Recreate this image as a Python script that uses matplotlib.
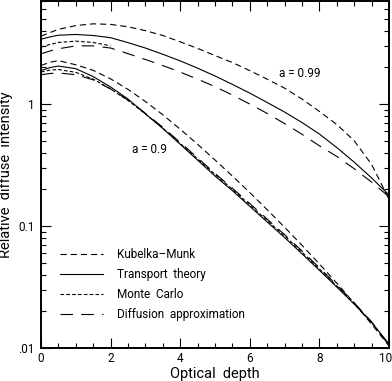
import matplotlib
matplotlib.use("Agg")
import matplotlib.pyplot as plt
from matplotlib.ticker import FixedLocator, FixedFormatter, LogLocator, MultipleLocator, NullFormatter

# optical depth grid
depth = [0, 0.25, 0.5, 1, 1.5, 2, 2.5, 3, 3.5, 4, 4.5, 5, 5.5, 6, 6.5, 7, 7.5, 8, 8.5, 9, 9.5, 10]

# a = 0.99
km_99 = [3.6, 3.85, 4.1, 4.4, 4.55, 4.5, 4.3, 4.0, 3.65, 3.24, 2.86, 2.5, 2.19, 1.88,
         1.6, 1.35, 1.1, 0.87, 0.68, 0.5, 0.32, 0.166]
tt_99 = [3.4, 3.55, 3.67, 3.72, 3.65, 3.5, 3.19, 2.88, 2.56, 2.26, 1.97, 1.70, 1.45, 1.23,
         1.03, 0.86, 0.706, 0.568, 0.44, 0.334, 0.248, 0.18]
da_99 = [2.58, 2.72, 2.84, 3.0, 3.0, 2.88, 2.59, 2.32, 2.07, 1.83, 1.60, 1.39, 1.186, 1.0,
         0.838, 0.692, 0.565, 0.455, 0.372, 0.295, 0.229, 0.174]
mc_depth_99 = [0, 0.25, 0.5, 1, 1.5, 2]
mc_99 = [2.93, 3.08, 3.2, 3.28, 3.2, 3.0]

# a = 0.9
km_90 = [2.07, 2.2, 2.27, 2.1, 1.89, 1.61, 1.32, 1.05, 0.817, 0.622, 0.468, 0.348, 0.257, 0.188,
         0.136, 0.0977, 0.0695, 0.0489, 0.034, 0.0233, 0.0157, 0.0104]
tt_90 = [1.88, 1.99, 2.05, 1.95, 1.68, 1.38, 1.10, 0.832, 0.631, 0.468, 0.347, 0.257, 0.195, 0.145,
         0.108, 0.0804, 0.0592, 0.0434, 0.0316, 0.0229, 0.0162, 0.0108]
mc_90 = [1.83, 1.9, 1.92, 1.82, 1.6, 1.33, 1.07, 0.83, 0.635, 0.475, 0.355, 0.265, 0.2, 0.149,
         0.111, 0.083, 0.061, 0.0445, 0.0322, 0.0232, 0.0163, 0.0106]
da_90 = [1.74, 1.78, 1.8, 1.74, 1.58, 1.33, 1.08, 0.84, 0.645, 0.485, 0.362, 0.27, 0.204, 0.153,
         0.114, 0.085, 0.0625, 0.0455, 0.0328, 0.0235, 0.0164, 0.0105]

x_ticks = [0, 2, 4, 6, 8, 10]
x_tick_labels = ['0', '2', '4', '6', '8', '10']
y_ticks = [0.01, 0.1, 1]
y_tick_labels = ['.01', '0.1', '1']

plt.rcParams['lines.scale_dashes'] = False
plt.rcParams['font.family'] = ['Roboto', 'DejaVu Sans']

fig = plt.figure(figsize=(3.92, 3.81), dpi=100)
ax = fig.add_axes([41 / 392, 33 / 381, 348 / 392, 347 / 381])

lw = 0.8
km_style = dict(color='black', lw=lw, dashes=(4.5, 2.8))
tt_style = dict(color='black', lw=lw, ls='-')
mc_style = dict(color='black', lw=lw, dashes=(2.6, 1.6))
da_style = dict(color='black', lw=lw, dashes=(9.0, 6.0))

ax.plot(depth, km_99, **km_style, label='Kubelka\u2013Munk')
ax.plot(depth, tt_99, **tt_style, label='Transport  theory')
ax.plot(mc_depth_99, mc_99, **mc_style, label='Monte  Carlo')
ax.plot(depth, da_99, **da_style, label='Diffusion  approximation')

ax.plot(depth, km_90, **km_style)
ax.plot(depth, tt_90, **tt_style)
ax.plot(depth, mc_90, **mc_style)
ax.plot(depth, da_90, **da_style)

ax.set_yscale('log')
ax.set_xlim(0, 10)
ax.set_ylim(0.01, 7)

# last x label drawn separately so it stays inside the figure
ax.xaxis.set_major_locator(FixedLocator(x_ticks))
ax.xaxis.set_major_formatter(FixedFormatter(x_tick_labels[:-1] + ['']))
ax.xaxis.set_minor_locator(MultipleLocator(0.5))
ax.annotate(x_tick_labels[-1], xy=(x_ticks[-1], 0), xycoords=('data', 'axes fraction'),
            xytext=(2, -3), textcoords='offset points', ha='right', va='top', fontsize=8.5)

ax.yaxis.set_major_locator(FixedLocator(y_ticks))
ax.yaxis.set_major_formatter(FixedFormatter(y_tick_labels))
ax.yaxis.set_minor_locator(LogLocator(base=10, subs=range(2, 10)))
ax.yaxis.set_minor_formatter(NullFormatter())

ax.tick_params(which='both', direction='in', top=True, right=True, width=0.8, labelsize=8.5)
ax.tick_params(which='major', length=7)
ax.tick_params(which='minor', length=3.6)
ax.tick_params(axis='y', pad=4.5)
ax.tick_params(axis='x', pad=3)
for s in ax.spines.values():
    s.set_linewidth(1.4)

ax.set_xlabel('Optical  depth', fontsize=10.5, labelpad=1)
ax.set_ylabel('Relative  diffuse  intensity', fontsize=10.5, labelpad=4)

ax.text(7.44, 1.77, 'a = 0.99', ha='center', va='center', fontsize=8.5)
ax.text(3.13, 0.426, 'a = 0.9', ha='center', va='center', fontsize=8.5)

ax.legend(loc='upper left', bbox_to_anchor=(0.0546, 0.288), frameon=False,
          fontsize=8.5, handlelength=3.64, handletextpad=1.2, labelspacing=0.6,
          borderpad=0, borderaxespad=0)

fig.savefig('out.png', dpi=100)
